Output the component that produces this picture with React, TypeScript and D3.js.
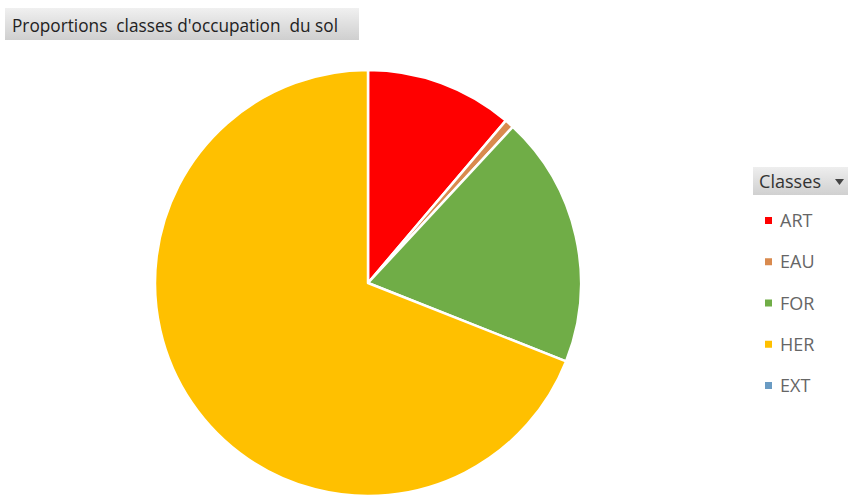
import React from "react";
import * as d3 from "d3";

const categories = ["ART", "EAU", "FOR", "HER", "EXT"];
const values = [11.2, 0.7, 19.1, 69.0, 0.0];
const colors = ["#FF0000", "#D98A4E", "#70AD47", "#FFC000", "#6A9BC3"];
const title = "Proportions  classes d'occupation  du sol";
const legendTitle = "Classes";

export default function App() {
  const W = 848, H = 496;
  const cx = 368, cy = 283, r = 213;
  const data = categories.map((c, i) => ({ c, v: values[i], col: colors[i] }));
  const pie = d3.pie<any>().value((d) => d.v).sort(null);
  const arcs = pie(data);
  const arc = d3.arc<any>().innerRadius(0).outerRadius(r);
  const legendY = d3.scalePoint<string>().domain(categories).range([220, 385]);
  const font = "'Open Sans', 'Noto Sans', sans-serif";
  return (
    <svg width={W} height={H} style={{ position: "absolute", left: 0, top: 0, background: "#fff" }}>
      <defs>
        <linearGradient id="tg" x1="0" y1="0" x2="0" y2="1">
          <stop offset="0" stopColor="#f0f0f0" />
          <stop offset="1" stopColor="#cfcfcf" />
        </linearGradient>
        <linearGradient id="lg" x1="0" y1="0" x2="0" y2="1">
          <stop offset="0" stopColor="#eeeeee" />
          <stop offset="1" stopColor="#d0d0d0" />
        </linearGradient>
      </defs>
      <rect x={5} y={8} width={354} height={32} fill="url(#tg)" />
      <text x={12} y={32} fontFamily={font} fontSize={18} fill="#222" style={{ whiteSpace: "pre" }}
        textLength={326} lengthAdjust="spacingAndGlyphs">{title}</text>
      <g transform={`translate(${cx},${cy})`}>
        {arcs.map((a, i) => (
          <path key={i} d={arc(a) || ""} fill={data[i].col} stroke="#fff" strokeWidth={a.data.v > 0 ? 2.5 : 0} strokeLinejoin="round" />
        ))}
      </g>
      <rect x={753} y={167} width={95} height={28} fill="url(#lg)" />
      <text x={759} y={188} fontFamily={font} fontSize={18} fill="#333" textLength={62} lengthAdjust="spacingAndGlyphs">{legendTitle}</text>
      <path d="M835,179 l9,0 l-4.5,6 z" fill="#444" />
      {categories.map((c, i) => (
        <g key={c}>
          <rect x={765} y={(legendY(c) as number) - 3} width={7} height={7} fill={colors[i]} />
          <text x={780} y={(legendY(c) as number) + 7} fontFamily={font} fontSize={18} fill="#666">{c}</text>
        </g>
      ))}
    </svg>
  );
}
